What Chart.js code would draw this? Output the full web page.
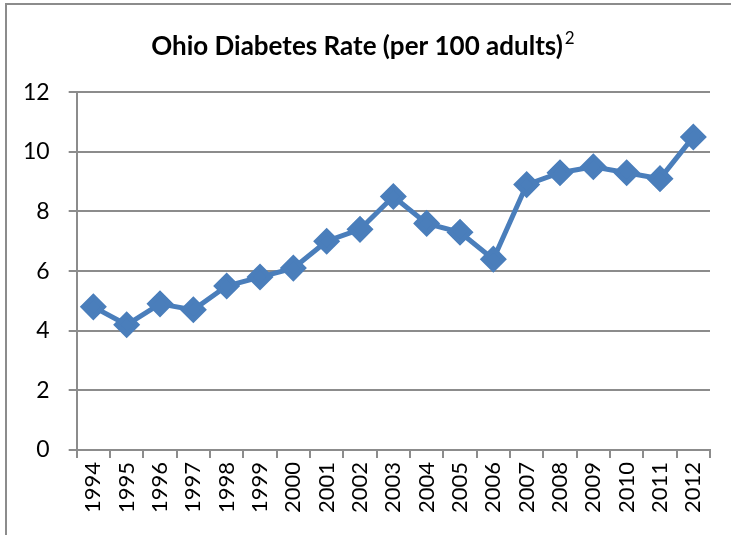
<!DOCTYPE html>
<html>
<head>
<meta charset="utf-8">
<script src="https://cdn.jsdelivr.net/npm/chart.js@4/dist/chart.umd.min.js"></script>
<style>
  html, body { margin: 0; padding: 0; background: #fff; overflow: hidden; }
  #wrap { position: relative; width: 731px; height: 535px; }
  #frame { position: absolute; left: 5px; top: 3px; width: 740px; height: 560px;
           border: 2px solid #8c8c8c; box-sizing: border-box; }
  #rateChart { position: absolute; left: 0; top: 0; }
</style>
</head>
<body>
<div id="wrap">
  <div id="frame"></div>
  <canvas id="rateChart" width="731" height="535"></canvas>
</div>
<script>
const years = ['1994', '1995', '1996', '1997', '1998', '1999', '2000', '2001', '2002', '2003',
  '2004', '2005', '2006', '2007', '2008', '2009', '2010', '2011', '2012'];
const diabetesRate = [4.8, 4.2, 4.9, 4.7, 5.5, 5.8, 6.1, 7.0, 7.4, 8.5,
  7.6, 7.3, 6.4, 8.9, 9.3, 9.5, 9.3, 9.1, 10.5];
const yTicks = [0, 2, 4, 6, 8, 10, 12];

const fontName = 'Lato, "Open Sans", sans-serif';
const lineColor = '#4A7EBB';
const gridColor = '#8c8c8c';

// draws the little superscript "2" right after the title
const footnotePlugin = {
  id: 'footnote',
  afterDraw(chart) {
    const tb = chart.titleBlock;
    if (!tb) return;
    const ctx = chart.ctx;
    const t = chart.options.plugins.title;
    ctx.save();
    ctx.font = 'bold ' + t.font.size + 'px ' + fontName;
    const w = ctx.measureText(t.text).width;
    const cx = (tb.left + tb.right) / 2;
    const cy = tb.top + t.padding.top + t.font.size * 0.6;
    ctx.font = '17px ' + fontName;
    ctx.fillStyle = '#000';
    ctx.textBaseline = 'middle';
    ctx.fillText('2', cx + w / 2 + 2, cy - 8);
    ctx.restore();
  }
};

const ctx = document.getElementById('rateChart').getContext('2d');
new Chart(ctx, {
  type: 'line',
  data: {
    labels: years,
    datasets: [{
      data: diabetesRate,
      borderColor: lineColor,
      backgroundColor: lineColor,
      borderWidth: 5,
      pointStyle: 'rectRot',
      pointRadius: 10,
      pointHoverRadius: 10,
      pointBackgroundColor: lineColor,
      pointBorderColor: lineColor,
      tension: 0
    }]
  },
  options: {
    responsive: false,
    animation: false,
    layout: { padding: { left: 4, right: 21, top: 21, bottom: 18 } },
    plugins: {
      legend: { display: false },
      tooltip: { enabled: false },
      title: {
        display: true,
        text: 'Ohio Diabetes Rate (per 100 adults)',
        color: '#000',
        font: { family: fontName, size: 26, weight: 'bold' },
        padding: { top: 10, bottom: 30 }
      }
    },
    scales: {
      x: {
        offset: true,
        grid: { drawOnChartArea: false, drawTicks: true, tickLength: 8, color: gridColor, lineWidth: 2, offset: true },
        border: { color: gridColor, width: 2 },
        ticks: {
          color: '#000',
          font: { family: fontName, size: 22 },
          minRotation: 90,
          maxRotation: 90,
          autoSkip: false,
          padding: 4
        }
      },
      y: {
        min: 0,
        max: 12,
        afterBuildTicks(axis) { axis.ticks = yTicks.map(v => ({ value: v })); },
        grid: { color: gridColor, lineWidth: 2, tickLength: 8 },
        border: { color: gridColor, width: 2 },
        ticks: {
          color: '#000',
          font: { family: fontName, size: 23 },
          padding: 19
        }
      }
    }
  },
  plugins: [footnotePlugin]
});
</script>
</body>
</html>
